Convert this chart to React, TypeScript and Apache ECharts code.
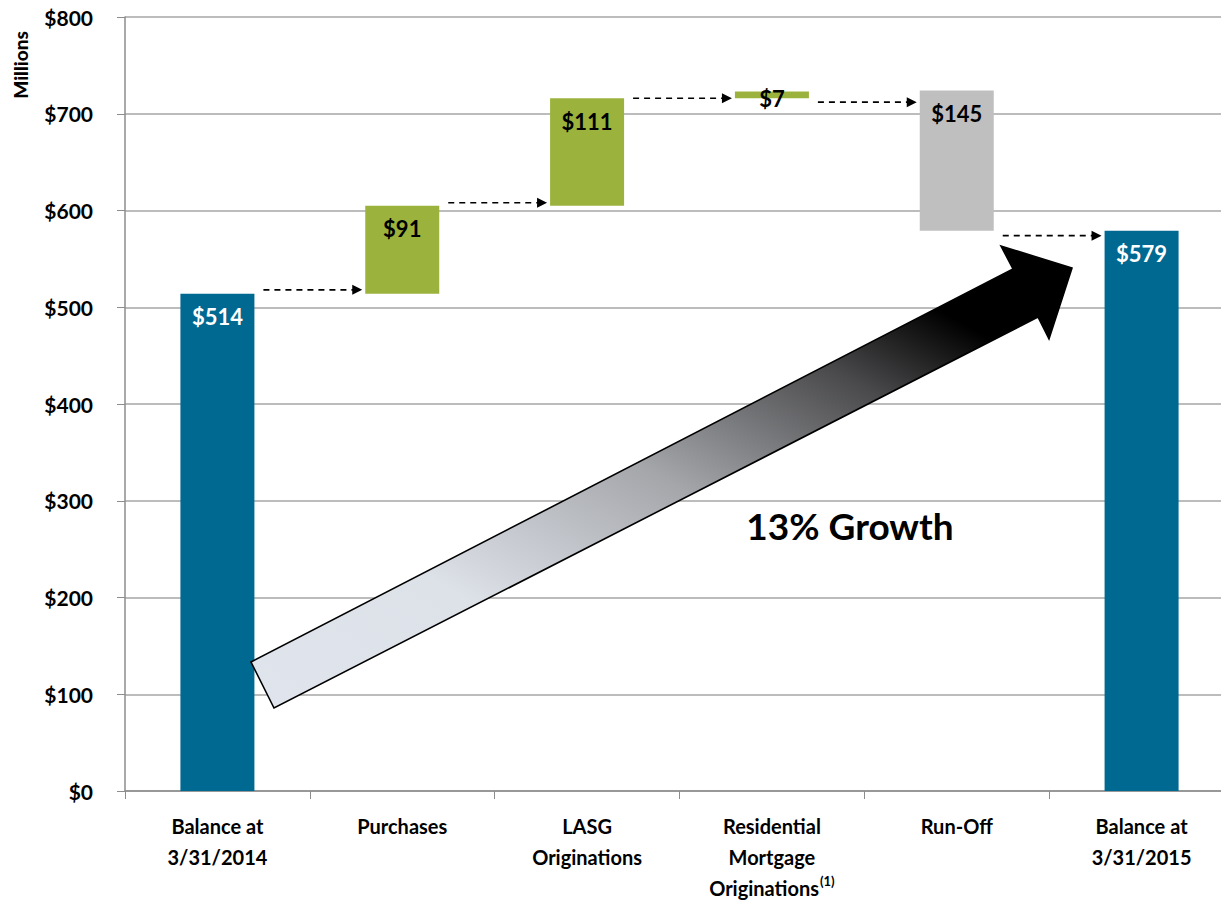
import React, { useEffect, useRef } from "react";
import * as echarts from "echarts";

const categories = [
  "Balance at\n3/31/2014",
  "Purchases",
  "LASG\nOriginations",
  "Residential\nMortgage\nOriginations(1)",
  "Run-Off",
  "Balance at\n3/31/2015",
];
// invisible base of each floating bar (running total before/after the step)
const baseValues = [0, 514, 605, 716, 579, 0];
// visible bar heights
const barValues = [514, 91, 111, 7, 145, 579];
const barLabels = ["$514", "$91", "$111", "$7", "$145", "$579"];
const barColors = ["#006991", "#9BB33C", "#9BB33C", "#9BB33C", "#BFBFBF", "#006991"];
const labelColors = ["#ffffff", "#000000", "#000000", "#000000", "#000000", "#ffffff"];
// level (in $M) of each dashed connector arrow leaving bar i
const connectorLevels = [518, 608, 716, 712, 574];
const yTicks = [0, 100, 200, 300, 400, 500, 600, 700, 800];

const FONT = "Lato, 'Open Sans', sans-serif";
const BAR_W = 74;

export default function App() {
  const ref = useRef<HTMLDivElement>(null);
  useEffect(() => {
    if (!ref.current) return;
    const chart = echarts.init(ref.current, null, { renderer: "svg" });
    const option: any = {
      animation: false,
      backgroundColor: "#ffffff",
      grid: { left: 125, top: 17, height: 776, width: 1109, containLabel: false },
      xAxis: {
        type: "category",
        data: categories,
        axisLine: { lineStyle: { color: "#8c8c8c", width: 1.5 } },
        axisTick: { show: true, length: 8, alignWithLabel: false, lineStyle: { color: "#8c8c8c" } },
        axisLabel: {
          interval: 0,
          margin: 19,
          color: "#000",
          fontFamily: FONT,
          fontWeight: "bold",
          fontSize: 20,
          lineHeight: 31,
          formatter: (v: string) => v.replace("(1)", "{sup|(1)}"),
          rich: {
            sup: { fontSize: 13, fontWeight: "bold", fontFamily: FONT, color: "#000", padding: [0, 0, 14, 1] },
          },
        },
      },
      yAxis: {
        type: "value",
        min: yTicks[0],
        max: yTicks[yTicks.length - 1],
        interval: 100,
        axisLine: { show: true, lineStyle: { color: "#8c8c8c", width: 1.5 } },
        axisTick: { show: true, length: 8, inside: false, lineStyle: { color: "#8c8c8c" } },
        splitLine: { lineStyle: { color: "#a6a6a6", width: 1.5 } },
        axisLabel: {
          margin: 32,
          color: "#000",
          fontFamily: FONT,
          fontWeight: "bold",
          fontSize: 21,
          formatter: (v: number) => "$" + v,
        },
      },
      graphic: [
        {
          type: "text",
          x: 20,
          y: 65,
          rotation: Math.PI / 2,
          style: {
            text: "Millions",
            fontFamily: FONT,
            fontWeight: 900,
            fontSize: 19,
            fill: "#000",
            textAlign: "center",
            textVerticalAlign: "middle",
          },
          z: 20,
        },
        {
          type: "polygon",
          z: 50,
          shape: {
            points: [
              [251, 662],
              [1013, 269],
              [1001, 246],
              [1072, 268],
              [1049, 339],
              [1038, 317],
              [274, 708],
            ],
          },
          style: {
            fill: new echarts.graphic.LinearGradient(0, 1, 1, 0, [
              { offset: 0, color: "#e0e4ec" },
              { offset: 0.25, color: "#dde1e8" },
              { offset: 0.5, color: "#a4a6aa" },
              { offset: 0.72, color: "#4a4a4c" },
              { offset: 0.85, color: "#000000" },
              { offset: 1, color: "#000000" },
            ]),
            stroke: "#000",
            lineWidth: 1.6,
          },
        },
        {
          type: "text",
          x: 850,
          y: 525,
          z: 60,
          style: {
            text: "13% Growth",
            fontFamily: FONT,
            fontWeight: "bold",
            fontSize: 37,
            fill: "#000",
            textAlign: "center",
            textVerticalAlign: "middle",
          },
        },
      ],
      series: [
        {
          type: "bar",
          stack: "total",
          barWidth: BAR_W,
          silent: true,
          itemStyle: { color: "transparent" },
          data: baseValues,
        },
        {
          type: "bar",
          stack: "total",
          barWidth: BAR_W,
          data: barValues.map((v, i) => ({
            value: v,
            itemStyle: { color: barColors[i] },
            label: {
              show: true,
              formatter: barLabels[i],
              position: v < 20 ? "inside" : "insideTop",
              distance: 12,
              offset: v < 20 ? [0, 4] : [0, 0],
              color: labelColors[i],
              fontFamily: FONT,
              fontWeight: "bold",
              fontSize: 22,
            },
          })),
        },
        {
          type: "custom",
          clip: false,
          z: 10,
          data: connectorLevels.map((l, i) => [i, l]),
          renderItem: (params: any, api: any) => {
            const i = api.value(0);
            const lvl = api.value(1);
            const p0 = api.coord([i, lvl]);
            const p1 = api.coord([i + 1, lvl]);
            const x0 = p0[0] + BAR_W / 2 + 9;
            const tip = p1[0] - BAR_W / 2 - 3;
            const y = p0[1];
            return {
              type: "group",
              children: [
                {
                  type: "line",
                  shape: { x1: x0, y1: y, x2: tip - 9, y2: y },
                  style: { stroke: "#000", lineWidth: 1.6, lineDash: [6, 5] },
                },
                {
                  type: "polygon",
                  shape: { points: [[tip - 10, y - 5], [tip, y], [tip - 10, y + 5]] },
                  style: { fill: "#000" },
                },
              ],
            };
          },
        },
      ],
    };
    chart.setOption(option);
    return () => chart.dispose();
  }, []);
  return (
    <div
      style={{ position: "fixed", left: 0, top: 0, width: 1221, height: 903, overflow: "hidden", background: "#fff" }}
    >
      <div ref={ref} style={{ width: 1240, height: 903 }} />
    </div>
  );
}
